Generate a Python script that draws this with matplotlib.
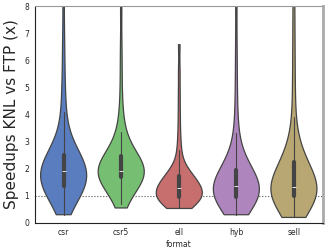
import matplotlib
matplotlib.use("Agg")
import matplotlib.pyplot as plt
import seaborn as sns
import pandas as pd

csr = [0.3, 0.5, 0.65, 0.8, 0.9, 1.0, 1.05, 1.1, 1.15, 1.2, 1.22, 1.25, 1.28, 1.3, 1.33,
       1.38, 1.42, 1.46, 1.5, 1.54, 1.58, 1.62, 1.66, 1.7, 1.74, 1.77, 1.8, 1.83, 1.86, 1.89,
       1.92, 1.96, 2.0, 2.04, 2.08, 2.12, 2.16, 2.2, 2.24, 2.28, 2.32, 2.36, 2.4, 2.44, 2.48,
       2.55, 2.65, 2.8, 2.95, 3.15, 3.4, 3.7, 4.1, 4.6, 5.2, 6.0, 7.0, 8.5, 10.5, 13.0]
csr5 = [0.55, 0.7, 0.85, 1.0, 1.1, 1.2, 1.3, 1.38, 1.45, 1.5, 1.55, 1.6, 1.63, 1.66, 1.69,
        1.71, 1.72, 1.74, 1.75, 1.77, 1.78, 1.8, 1.81, 1.83, 1.84, 1.85, 1.86, 1.87, 1.88, 1.89,
        1.92, 1.95, 1.98, 2.02, 2.06, 2.1, 2.14, 2.18, 2.22, 2.26, 2.3, 2.34, 2.38, 2.41, 2.44,
        2.5, 2.6, 2.7, 2.85, 3.0, 3.2, 3.35, 3.6, 4.0, 4.6, 5.5, 6.5, 8.0, 10.0, 12.0]
ell = [0.55, 0.6, 0.64, 0.68, 0.71, 0.74, 0.77, 0.8, 0.82, 0.84, 0.86, 0.88, 0.9, 0.92, 0.94,
       0.96, 0.98, 1.0, 1.02, 1.05, 1.07, 1.1, 1.12, 1.15, 1.17, 1.2, 1.22, 1.25, 1.27, 1.29,
       1.32, 1.36, 1.4, 1.43, 1.47, 1.5, 1.54, 1.58, 1.62, 1.65, 1.68, 1.71, 1.74, 1.77, 1.79,
       1.85, 1.95, 2.05, 2.2, 2.4, 2.7, 3.0, 3.5, 4.1, 4.8, 5.6, 6.6]
hyb = [0.3, 0.4, 0.5, 0.58, 0.65, 0.7, 0.74, 0.78, 0.81, 0.84, 0.86, 0.88, 0.9, 0.92, 0.94,
       0.97, 1.0, 1.02, 1.05, 1.07, 1.1, 1.13, 1.15, 1.18, 1.2, 1.23, 1.26, 1.29, 1.31, 1.34,
       1.38, 1.42, 1.46, 1.5, 1.54, 1.58, 1.62, 1.66, 1.7, 1.74, 1.78, 1.82, 1.86, 1.9, 1.94,
       2.0, 2.1, 2.2, 2.35, 2.5, 2.7, 2.95, 3.3, 3.8, 4.5, 5.4, 6.5, 8.0, 10.0, 12.0]
sell = [0.2, 0.3, 0.4, 0.5, 0.58, 0.65, 0.72, 0.78, 0.83, 0.87, 0.9, 0.93, 0.95, 0.97, 0.99,
        1.02, 1.04, 1.06, 1.08, 1.1, 1.12, 1.15, 1.17, 1.2, 1.22, 1.25, 1.27, 1.3, 1.32, 1.34,
        1.4, 1.46, 1.52, 1.58, 1.64, 1.7, 1.76, 1.82, 1.88, 1.95, 2.02, 2.09, 2.16, 2.22, 2.28,
        2.35, 2.45, 2.6, 2.8, 3.05, 3.4, 3.9, 4.6, 5.4, 6.3, 7.3, 8.5, 10.0, 13.0]

formats = ["csr", "csr5", "ell", "hyb", "sell"]
samples = [csr, csr5, ell, hyb, sell]
colors = ["#4878CF", "#6ACC65", "#D65F5F", "#B47CC7", "#C4AD66"]  # old seaborn muted

rows = []
for f, vals in zip(formats, samples):
    for v in vals:
        rows.append((f, v))
df = pd.DataFrame(rows, columns=["format", "speedup"])

sns.set_style("white")
fig, ax = plt.subplots(figsize=(3.32, 2.49), dpi=100)

sns.violinplot(data=df, x="format", y="speedup", hue="format", order=formats,
               palette=colors, cut=0, density_norm="width", inner="box",
               inner_kws=dict(box_width=3, whis_width=0.8),
               bw_adjust=0.7, linewidth=0.9, linecolor="#444444", legend=False, ax=ax)

ax.axhline(1.0, color="#555555", linestyle=":", linewidth=0.8, zorder=0)

ax.set_ylim(0, 8)
ax.set_yticks(range(0, 9))
ax.set_xlabel("format", fontsize=5.5, labelpad=2)
ax.set_ylabel("Speedups KNL vs FTP (x)", fontsize=11)
ax.tick_params(axis="both", labelsize=5.5, length=2, width=0.6, pad=2)

for side in ["left", "bottom"]:
    ax.spines[side].set_color("#222222")
    ax.spines[side].set_linewidth(0.8)
ax.spines["top"].set_color("#999999")
ax.spines["right"].set_color("#aaaaaa")
ax.spines["right"].set_linewidth(2)

fig.subplots_adjust(left=0.105, right=0.972, top=0.975, bottom=0.105)
fig.savefig("out.png", dpi=100)
